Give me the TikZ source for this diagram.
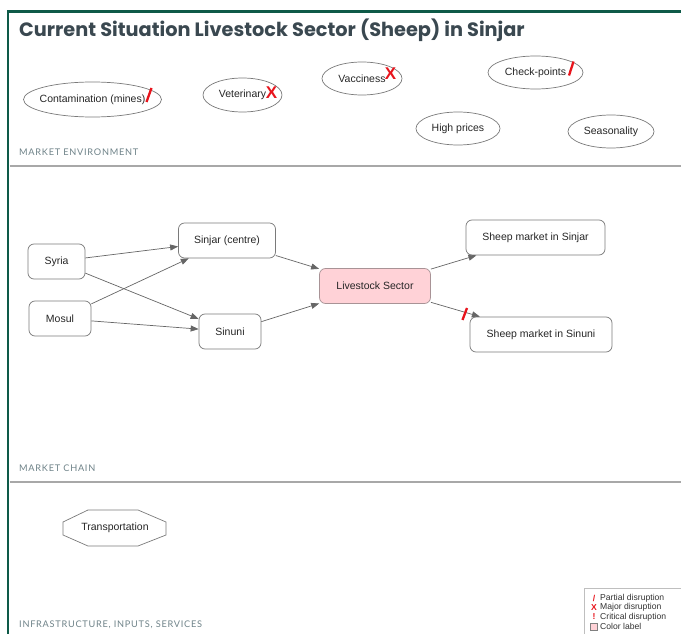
\documentclass[tikz,border=0pt]{standalone}
\usepackage{fontspec}
\setmainfont{Liberation Sans}
\newfontfamily\titlefont{Poppins}
\newfontfamily\secfont[LetterSpace=8]{Lato}
\usetikzlibrary{arrows.meta,shapes.geometric}
\definecolor{framegreen}{HTML}{0E5A48}
\definecolor{sepgray}{HTML}{A8A8A8}
\definecolor{titlecol}{HTML}{3A4850}
\definecolor{seccol}{HTML}{6F8389}
\definecolor{boxline}{HTML}{7A7A7A}
\definecolor{arrowcol}{HTML}{666666}
\definecolor{pinkfill}{HTML}{FFD2D7}
\definecolor{pinkline}{HTML}{A89396}
\definecolor{markred}{HTML}{E8141C}
\tikzset{
  envtext/.style={inner sep=0pt, font=\fontsize{10.5}{12}\selectfont, text=black!85},
  envell/.style={ellipse, draw=boxline, line width=0.7pt, inner sep=0pt},
  chainbox/.style={rectangle, rounded corners=6pt, draw=boxline, line width=0.7pt, fill=white, font=\fontsize{10.5}{12}\selectfont, text=black!85},
  flow/.style={draw=arrowcol, line width=0.7pt, -{Triangle[length=8pt,width=6pt]}},
  seclabel/.style={anchor=base west, inner sep=0pt, text=seccol, font=\secfont\fontsize{9.2}{10}\selectfont},
  slashmark/.style={draw=markred, line width=2.3pt},
  major/.style={text=markred, inner sep=0pt, font=\bfseries\fontsize{17}{17}\selectfont},
  legtext/.style={anchor=west, inner sep=0pt, font=\fontsize{8.6}{9}\selectfont, text=black!80},
}
\begin{document}
\begin{tikzpicture}[x=1pt,y=-1pt]
\useasboundingbox (0,0) rectangle (681,634);
\fill[white] (0,0) rectangle (681,634);
% frame
\draw[framegreen, line width=2.6pt] (681,11.5) -- (8,11.5) -- (8,634);
% separators
\draw[sepgray, line width=2.4pt] (9.5,166) -- (681,166);
\draw[sepgray, line width=2.4pt] (9.5,482) -- (681,482);
% title
\node[anchor=base west, inner sep=0pt, text=titlecol, font=\titlefont\bfseries\fontsize{19.3}{21}\selectfont] (title) at (19,37) {Current Situation Livestock Sector (Sheep) in Sinjar};
% section labels
\node[seclabel] (secenv) at (19,156) {MARKET ENVIRONMENT};
\node[seclabel] (secchain) at (19,471) {MARKET CHAIN};
\node[seclabel] (secinfra) at (19,627) {INFRASTRUCTURE, INPUTS, SERVICES};
% market environment
\node[envell, minimum width=138pt, minimum height=35pt, label={[envtext]center:Contamination (mines)}] (contam) at (92.5,99.5) {};
\node[envell, minimum width=79pt, minimum height=34pt, label={[envtext]center:Veterinary}] (vet) at (242.5,95) {};
\node[envell, minimum width=80pt, minimum height=33pt, label={[envtext]center:Vacciness}] (vacc) at (362,78.5) {};
\node[envell, minimum width=95pt, minimum height=33pt, label={[envtext]center:Check-points}] (check) at (535.5,72.5) {};
\node[envell, minimum width=84pt, minimum height=33pt, label={[envtext]center:High prices}] (high) at (458,128.5) {};
\node[envell, minimum width=86pt, minimum height=33pt, label={[envtext]center:Seasonality}] (season) at (611,131.5) {};
\coordinate (m1a) at (146.5,102); \coordinate (m1b) at (151.5,88);
\draw[slashmark] (m1a) -- (m1b);
\node[major] (m2) at (271.5,93) {X};
\node[major] (m3) at (390.5,74) {X};
\coordinate (m4a) at (569,75.5); \coordinate (m4b) at (573.5,61.5);
\draw[slashmark] (m4a) -- (m4b);
% market chain
\node[chainbox, minimum width=57pt, minimum height=35pt] (syria) at (56.5,261.5) {Syria};
\node[chainbox, minimum width=62pt, minimum height=35pt] (mosul) at (60,318.5) {Mosul};
\node[chainbox, minimum width=97pt, minimum height=35pt] (sinjar) at (227,240.5) {Sinjar (centre)};
\node[chainbox, minimum width=62pt, minimum height=35pt] (sinuni) at (230,331.5) {Sinuni};
\node[chainbox, fill=pinkfill, draw=pinkline, minimum width=111pt, minimum height=35pt] (live) at (375,286) {Livestock Sector};
\node[chainbox, minimum width=139pt, minimum height=35pt] (msinjar) at (535.5,237.5) {Sheep market in Sinjar};
\node[chainbox, minimum width=142pt, minimum height=35pt] (msinuni) at (541,334.5) {Sheep market in Sinuni};
\draw[flow] (syria) -- (sinjar);
\draw[flow] (syria) -- (sinuni);
\draw[flow] (mosul) -- (sinjar);
\draw[flow] (mosul) -- (sinuni);
\draw[flow] (sinjar) -- (live);
\draw[flow] (sinuni) -- (live);
\draw[flow] (live) -- (msinjar);
\draw[flow] (live) -- (msinuni);
\coordinate (m5a) at (462.5,320); \coordinate (m5b) at (467,308);
\draw[slashmark] (m5a) -- (m5b);
% infrastructure
\node[inner sep=0pt, font=\fontsize{10.5}{12}\selectfont, text=black!85] (transport) at (115,528) {Transportation};
\draw[boxline, line width=0.7pt] (88,510) -- (138,510) -- (166,522) -- (166,535) -- (138,546) -- (88,546) -- (63,535) -- (63,522) -- cycle;
% legend
\draw[black!25, line width=0.6pt] (584,588) rectangle (682,635);
\node[text=markred, inner sep=0pt, font=\bfseries\fontsize{8.6}{9}\selectfont] (l1m) at (594,598) {/};
\node[legtext] (l1) at (600,598) {Partial disruption};
\node[text=markred, inner sep=0pt, font=\bfseries\fontsize{8.6}{9}\selectfont] (l2m) at (594,607.5) {X};
\node[legtext] (l2) at (600,607.5) {Major disruption};
\node[text=markred, inner sep=0pt, font=\bfseries\fontsize{8.6}{9}\selectfont] (l3m) at (594,617) {!};
\node[legtext] (l3) at (600,617) {Critical disruption};
\node[draw=black!50, fill=pinkfill, inner sep=0pt, minimum size=7pt, line width=0.4pt] (l4m) at (594,626.5) {};
\node[legtext] (l4) at (600,626.5) {Color label};
\end{tikzpicture}
\end{document}
